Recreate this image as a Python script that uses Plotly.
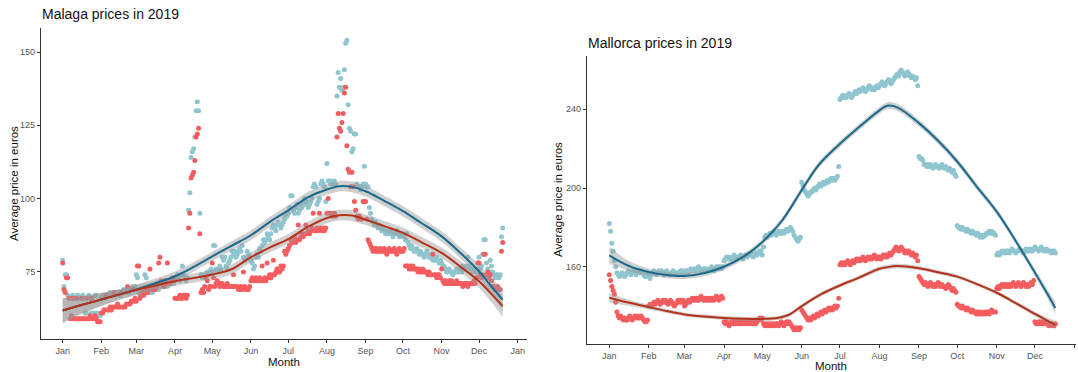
import numpy as np
import pandas as pd
import plotly.graph_objects as go

# ---------------- Malaga: daily average prices (1 Jan - 20 Dec 2019) ----------------
malaga_teal = [
    79, 70, 74, 74, 67, 66, 66, 66, 67, 66, 66, 66, 67, 66, 66, 66, 67, 66, 61, 61, 66, 67, 66, 61, 60, 61, 67, 67, 61, 60, 60,
    66, 67, 67, 66, 67, 67, 67, 68, 67, 67, 68, 67, 68, 68, 68, 67, 68, 68, 69, 68, 69, 69, 68, 69, 69, 70, 69, 70,
    74, 73, 68, 67, 67, 67, 68, 74, 73, 68, 68, 68, 69, 68, 69, 69, 70, 69, 69, 70, 70, 71, 70, 70, 71, 70, 71, 72, 71, 72, 71,
    72, 73, 74, 73, 72, 74, 77, 74, 73, 72, 73, 96, 102, 114, 116, 117, 121, 130, 133, 130, 95, 74, 73, 74, 73, 74, 75, 74, 75, 76,
    75, 84, 84, 76, 75, 76, 77, 76, 80, 79, 80, 77, 76, 78, 79, 80, 82, 81, 82, 80, 81, 82, 83, 82, 84, 80, 79, 80, 82, 81, 80,
    79, 78, 76, 77, 80, 81, 80, 83, 82, 84, 86, 85, 86, 88, 87, 86, 88, 90, 91, 90, 89, 91, 92, 91, 90, 91, 92, 93, 94, 94,
    95, 97, 101, 101, 96, 95, 97, 98, 95, 96, 98, 97, 99, 100, 98, 99, 97, 98, 99, 100, 104, 105, 104, 98, 99, 100, 105, 106, 105, 104, 99,
    112, 106, 106, 105, 106, 105, 106, 105, 135, 143, 138, 141, 137, 138, 144, 153, 154, 132, 124, 123, 116, 117, 122, 122, 105, 104, 104, 103, 104, 105, 111,
    105, 104, 104, 97, 95, 93, 92, 91, 92, 91, 90, 91, 90, 89, 90, 89, 88, 89, 88, 88, 89, 88, 87, 88, 88, 89, 88, 87, 88, 87,
    88, 87, 86, 88, 85, 84, 83, 84, 83, 82, 82, 83, 82, 81, 82, 81, 81, 80, 81, 82, 81, 80, 80, 81, 79, 80, 79, 80, 79, 78, 79,
    78, 77, 77, 76, 75, 75, 76, 75, 75, 74, 75, 75, 76, 75, 75, 76, 75, 77, 76, 76, 77, 80, 77, 76, 76, 75, 76, 76, 75, 76,
    80, 76, 77, 81, 86, 86, 78, 76, 75, 79, 77, 75, 74, 73, 74, 74, 73, 74, 87, 90,
]
malaga_red = [
    78, 69, 68, 73, 73, 66, 59, 60, 66, 59, 59, 66, 59, 59, 59, 66, 59, 59, 59, 66, 59, 59, 60, 66, 59, 59, 60, 59, 58, 58, 58,
    61, 61, 62, 62, 67, 62, 62, 63, 62, 63, 68, 63, 63, 64, 63, 63, 68, 63, 63, 63, 64, 70, 64, 64, 65, 69, 65, 66,
    65, 77, 77, 66, 67, 68, 67, 68, 69, 68, 69, 76, 70, 69, 70, 69, 70, 71, 78, 80, 72, 71, 70, 72, 71, 78, 72, 71, 72, 73, 72,
    66, 66, 66, 66, 67, 66, 66, 67, 67, 66, 67, 90, 95, 107, 108, 109, 113, 121, 122, 124, 88, 68, 69, 68, 70, 73, 72, 69, 70, 70,
    78, 73, 70, 71, 72, 71, 70, 71, 71, 70, 70, 70, 71, 70, 70, 70, 70, 74, 70, 70, 70, 69, 69, 70, 69, 75, 70, 69, 69, 69, 70,
    72, 73, 72, 72, 73, 72, 72, 73, 72, 77, 72, 73, 72, 78, 73, 74, 73, 74, 79, 74, 75, 76, 75, 75, 77, 76, 77, 82, 81, 82,
    83, 84, 86, 85, 86, 87, 85, 86, 91, 86, 87, 88, 87, 88, 91, 88, 89, 88, 89, 90, 95, 89, 89, 90, 89, 95, 90, 89, 90, 89, 90,
    95, 100, 95, 95, 94, 95, 95, 94, 121, 129, 124, 123, 126, 129, 136, 138, 118, 110, 109, 104, 109, 104, 99, 96, 94, 93, 94, 93, 93, 99, 99,
    99, 93, 86, 85, 84, 83, 82, 83, 82, 83, 82, 82, 83, 82, 82, 83, 82, 81, 82, 83, 82, 82, 82, 83, 82, 81, 82, 83, 82, 82,
    82, 83, 77, 77, 77, 76, 77, 76, 77, 76, 76, 76, 75, 76, 75, 75, 76, 75, 75, 75, 74, 75, 74, 74, 81, 74, 74, 73, 74, 74, 73,
    76, 72, 71, 72, 71, 71, 72, 71, 72, 71, 71, 71, 72, 71, 71, 71, 71, 70, 71, 71, 71, 70, 71, 71, 71, 71, 72, 71, 73, 78,
    78, 74, 73, 74, 81, 81, 74, 75, 73, 74, 72, 70, 70, 69, 69, 70, 69, 69, 82, 85,
]

# Smoothed trend (day of year -> price) with half-width of the confidence band
malaga_smooth_days = [0, 15, 31, 45, 59, 75, 90, 105, 120, 135, 151, 166, 181, 197, 212, 222, 232, 243, 258, 273, 288, 304, 319, 334, 345, 353]
malaga_teal_smooth = [61.8, 63.7, 65.6, 67.3, 69.0, 71.2, 73.5, 76.7, 80.3, 83.8, 87.5, 92.0, 96.0, 100.5, 103.1, 104.2, 104.0, 102.5, 99.2, 95.7, 91.6, 87.1, 81.5, 75.2, 69.5, 65.5]
malaga_red_smooth = [61.8, 63.7, 65.6, 67.2, 68.8, 70.4, 71.8, 72.9, 74.1, 75.8, 80.0, 83.3, 86.2, 90.4, 93.4, 94.3, 94.2, 92.8, 90.6, 88.3, 85.1, 81.5, 76.8, 71.8, 67.0, 63.3]
malaga_band = [4.2, 3.0, 2.2, 1.8, 1.7, 1.6, 1.6, 1.6, 1.6, 1.6, 1.7, 1.7, 1.7, 1.8, 1.8, 1.8, 1.8, 1.8, 1.8, 1.8, 1.8, 1.8, 1.9, 2.2, 2.9, 3.8]

# ---------------- Mallorca: daily average prices (1 Jan - 17 Dec 2019) ----------------
mallorca_teal = [
    182, 178, 172, 168, 163, 160, 157, 156, 155, 156, 157, 156, 155, 156, 157, 158, 157, 156, 157, 158, 157, 156, 157, 158, 157, 158, 157, 156, 155, 156, 157,
    155, 154, 156, 157, 158, 157, 156, 157, 158, 157, 158, 157, 156, 157, 158, 157, 156, 156, 157, 158, 157, 156, 157, 156, 157, 158, 158, 157,
    157, 158, 158, 157, 158, 159, 158, 158, 159, 158, 159, 160, 159, 158, 158, 159, 158, 159, 158, 158, 159, 160, 159, 158, 159, 160, 159, 160, 160, 159, 160,
    163, 164, 165, 164, 165, 164, 164, 165, 166, 165, 164, 165, 165, 166, 165, 164, 165, 166, 165, 166, 166, 167, 166, 165, 166, 167, 166, 167, 168, 168,
    166, 170, 175, 176, 175, 176, 177, 176, 177, 178, 177, 176, 177, 178, 177, 177, 178, 177, 178, 179, 178, 179, 180, 179, 178, 176, 175, 174, 173, 174, 175,
    203, 201, 199, 198, 197, 196, 197, 198, 198, 199, 200, 199, 200, 201, 202, 201, 202, 203, 202, 203, 204, 203, 204, 205, 204, 205, 204, 205, 206, 211,
    245, 246, 247, 246, 247, 246, 247, 248, 247, 246, 247, 248, 249, 248, 249, 250, 249, 250, 251, 250, 249, 250, 251, 252, 251, 250, 251, 250, 251, 252, 251,
    252, 253, 254, 253, 252, 253, 254, 255, 254, 253, 254, 255, 256, 257, 258, 257, 259, 260, 259, 258, 257, 258, 259, 258, 257, 256, 257, 256, 255, 256, 252,
    216, 215, 215, 214, 212, 212, 211, 212, 211, 212, 211, 210, 211, 212, 211, 211, 210, 211, 212, 211, 210, 211, 210, 209, 210, 209, 208, 209, 207, 206,
    181, 180, 180, 179, 180, 179, 179, 178, 179, 178, 178, 177, 178, 177, 177, 176, 177, 176, 175, 176, 175, 176, 176, 177, 177, 178, 177, 178, 177, 177, 176,
    166, 167, 166, 167, 168, 167, 168, 167, 168, 168, 167, 168, 169, 168, 168, 167, 168, 168, 169, 168, 168, 167, 168, 169, 168, 168, 169, 168, 168, 169,
    170, 169, 169, 168, 169, 170, 169, 168, 168, 169, 168, 168, 168, 167, 168, 168, 167,
]
mallorca_red = [
    156, 153, 150, 148, 146, 142, 137, 135, 134, 135, 134, 133, 134, 133, 133, 134, 135, 134, 133, 134, 135, 134, 135, 134, 134, 135, 134, 133, 132, 132, 133,
    140, 141, 140, 141, 142, 141, 142, 143, 142, 141, 142, 143, 142, 143, 142, 141, 142, 143, 142, 141, 140, 141, 142, 143, 142, 143, 142, 143,
    140, 141, 142, 143, 142, 143, 144, 143, 144, 143, 144, 143, 144, 145, 144, 143, 144, 143, 144, 143, 144, 143, 144, 143, 144, 145, 144, 143, 144, 145, 144,
    132, 131, 132, 131, 130, 131, 132, 131, 132, 131, 132, 131, 132, 131, 131, 132, 131, 132, 131, 132, 131, 132, 131, 131, 132, 131, 132, 133, 134, 133,
    134, 131, 130, 131, 130, 131, 130, 131, 130, 131, 130, 131, 131, 130, 131, 132, 131, 130, 131, 132, 131, 132, 131, 130, 129, 128, 129, 128, 129, 128, 129,
    138, 137, 136, 135, 134, 133, 134, 133, 134, 135, 134, 135, 136, 135, 136, 137, 136, 137, 138, 137, 138, 139, 138, 139, 138, 139, 140, 139, 140, 144,
    161, 162, 161, 162, 161, 162, 163, 162, 161, 162, 163, 162, 163, 164, 163, 164, 163, 164, 165, 164, 163, 164, 165, 164, 165, 164, 165, 166, 165, 164, 165,
    165, 164, 165, 166, 165, 166, 165, 166, 167, 166, 167, 168, 169, 170, 169, 168, 169, 170, 169, 168, 167, 168, 167, 168, 167, 166, 167, 166, 165, 166, 163,
    155, 154, 153, 152, 151, 152, 151, 150, 151, 152, 151, 150, 151, 150, 151, 152, 151, 150, 151, 150, 150, 149, 150, 151, 150, 149, 148, 149, 148, 147,
    141, 140, 140, 139, 140, 139, 139, 138, 139, 138, 138, 137, 138, 137, 137, 136, 137, 136, 137, 136, 136, 137, 136, 137, 137, 136, 137, 138, 137, 137, 137,
    149, 150, 149, 150, 151, 150, 151, 150, 151, 150, 151, 150, 151, 152, 151, 150, 151, 152, 151, 150, 151, 152, 151, 150, 151, 150, 151, 152, 151, 153,
    132, 131, 131, 132, 131, 132, 131, 131, 132, 131, 131, 130, 131, 131, 130, 130, 131,
]

mallorca_teal_days = [0, 15, 31, 45, 59, 75, 90, 105, 120, 135, 151, 160, 166, 181, 196, 212, 218, 226, 243, 258, 273, 288, 304, 319, 334, 344, 350]
mallorca_teal_smooth = [165.8, 160.5, 157.3, 155.8, 155.3, 156.8, 160.0, 165.0, 172.5, 183.0, 199.0, 208.0, 213.0, 222.5, 231.0, 239.5, 241.8, 241.0, 233.0, 224.0, 213.5, 201.0, 188.0, 173.0, 157.0, 146.0, 139.0]
mallorca_teal_band = [4.2, 2.6, 1.8, 1.6, 1.5, 1.5, 1.5, 1.5, 1.5, 1.5, 1.6, 1.6, 1.6, 1.6, 1.6, 1.7, 1.8, 1.8, 1.7, 1.6, 1.6, 1.6, 1.6, 1.6, 1.8, 2.3, 3.0]

mallorca_red_days = [0, 15, 31, 45, 59, 75, 90, 105, 120, 132, 141, 151, 166, 181, 196, 212, 218, 226, 243, 258, 273, 288, 304, 319, 334, 344, 350]
mallorca_red_smooth = [144.3, 141.8, 139.5, 137.5, 135.8, 134.7, 134.0, 133.6, 133.5, 134.0, 135.6, 140.0, 146.0, 150.5, 154.5, 159.0, 159.8, 160.4, 159.3, 157.2, 155.0, 151.3, 146.8, 141.5, 136.0, 132.5, 130.5]
mallorca_red_band = [2.4, 1.6, 1.2, 1.0, 1.0, 1.0, 1.0, 1.0, 1.0, 1.0, 1.0, 1.0, 1.0, 1.0, 1.0, 1.1, 1.1, 1.1, 1.1, 1.0, 1.0, 1.0, 1.0, 1.0, 1.2, 1.6, 2.2]

month_start = pd.Timestamp("2019-01-01")

TEAL_PT = "#8fc5ce"
RED_PT = "#f45c5f"
TEAL_LINE = "#1a6a8f"
RED_LINE = "#b5321b"
BAND = "rgba(150,150,150,0.45)"
FONT = "Liberation Sans, Arial, Helvetica, sans-serif"


def day_dates(days):
    return month_start + pd.to_timedelta(np.asarray(days), unit="D")


def daily_dates(values):
    return day_dates(np.arange(len(values)))


fig = go.Figure()


def add_panel(teal, red, smooths, xa, ya):
    for vals, col in ((teal, TEAL_PT), (red, RED_PT)):
        fig.add_trace(go.Scatter(
            x=daily_dates(vals), y=vals, mode="markers",
            marker=dict(size=5, color=col, line=dict(width=0)),
            xaxis=xa, yaxis=ya, showlegend=False, hoverinfo="skip"))
    for sdays, smooth, band, col in smooths:
        sx = day_dates(sdays)
        s = np.asarray(smooth)
        b = np.asarray(band)
        fig.add_trace(go.Scatter(
            x=sx, y=s - b, mode="lines", line=dict(width=0, shape="spline"),
            xaxis=xa, yaxis=ya, showlegend=False, hoverinfo="skip"))
        fig.add_trace(go.Scatter(
            x=sx, y=s + b, mode="lines", line=dict(width=0, shape="spline"),
            fill="tonexty", fillcolor=BAND,
            xaxis=xa, yaxis=ya, showlegend=False, hoverinfo="skip"))
    for sdays, smooth, band, col in smooths:
        fig.add_trace(go.Scatter(
            x=day_dates(sdays), y=smooth, mode="lines",
            line=dict(width=2, color=col, shape="spline"),
            xaxis=xa, yaxis=ya, showlegend=False, hoverinfo="skip"))


add_panel(malaga_teal, malaga_red, [
    (malaga_smooth_days, malaga_teal_smooth, malaga_band, TEAL_LINE),
    (malaga_smooth_days, malaga_red_smooth, malaga_band, RED_LINE),
], "x", "y")
add_panel(mallorca_teal, mallorca_red, [
    (mallorca_teal_days, mallorca_teal_smooth, mallorca_teal_band, TEAL_LINE),
    (mallorca_red_days, mallorca_red_smooth, mallorca_red_band, RED_LINE),
], "x2", "y2")

W, H = 1078, 372

axis_common = dict(
    showgrid=False, zeroline=False, showline=True, linecolor="#333333", linewidth=1.1,
    ticks="outside", ticklen=3, tickwidth=1, tickcolor="#333333",
    tickfont=dict(family=FONT, size=9, color="#555555"), automargin=False,
)
xaxis_common = dict(axis_common, type="date", tickformat="%b", dtick="M1", tick0="2019-01-01")

fig.update_layout(
    width=W, height=H, autosize=False,
    margin=dict(l=0, r=0, t=0, b=0),
    paper_bgcolor="white", plot_bgcolor="white",
    xaxis=dict(xaxis_common, domain=[41 / W, 527 / W], anchor="y",
               range=["2018-12-14 14:00", "2020-01-08 12:00"]),
    yaxis=dict(axis_common, domain=[1 - 339 / H, 1 - 28.3 / H], anchor="x",
               range=[52.1, 158.1], tickvals=[75, 100, 125, 150]),
    xaxis2=dict(xaxis_common, domain=[587 / W, 1076 / W], anchor="y2",
                range=["2018-12-14 12:00", "2020-01-02 05:00"]),
    yaxis2=dict(axis_common, domain=[1 - 344.3 / H, 1 - 56 / H], anchor="x2",
                range=[120.6, 267.1], tickvals=[160, 200, 240]),
)

texts = [
    ("Malaga prices in 2019", 40, 14, 14, 0, "left"),
    ("Mallorca prices in 2019", 586, 43, 14, 0, "left"),
    ("Month", 284, 362, 11.5, 0, "center"),
    ("Month", 831, 366, 11.5, 0, "center"),
    ("Average price in euros", 14, 184, 11.5, -90, "center"),
    ("Average price in euros", 558, 200, 11.5, -90, "center"),
]
for txt, px, py, size, ang, anchor in texts:
    fig.add_annotation(
        text=txt, xref="paper", yref="paper", x=px / W, y=1 - py / H,
        xanchor=anchor, yanchor="middle", showarrow=False, textangle=ang,
        font=dict(family=FONT, size=size, color="#111111"))

fig.write_html("out.html")
